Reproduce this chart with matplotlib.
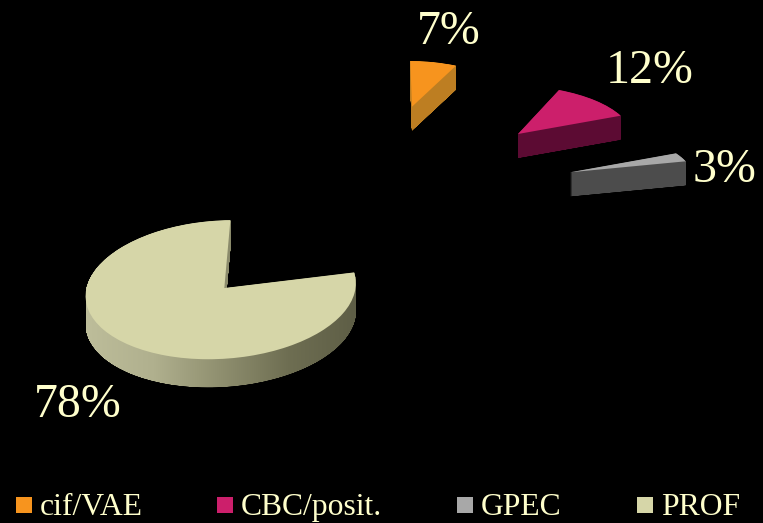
import numpy as np
import matplotlib
matplotlib.use("Agg")
import matplotlib.pyplot as plt
from matplotlib.transforms import Transform, Affine2D
from matplotlib.path import Path
from matplotlib.patches import PathPatch, Rectangle
from matplotlib.colors import LinearSegmentedColormap

categories = ["cif/VAE", "CBC/posit.", "GPEC", "PROF"]
values = [7, 12, 3, 78]
labels = ["7%", "12%", "3%", "78%"]

top_colors = ["#F7941E", "#CC1F6B", "#A8A8A8", "#D6D6A8"]
side_colors = ["#BD7E22", "#5C0B33", "#4C4C4C", "#8C8C6C"]
legend_colors = ["#F7941E", "#CC1F6B", "#A8A8A8", "#D6D6A8"]
text_color = "#FFFFCC"
serif = "Liberation Serif"


class Projection(Transform):
    input_dims = 2
    output_dims = 2
    has_inverse = False
    is_affine = False

    def __init__(self, M):
        super().__init__()
        self.M = M

    def transform_non_affine(self, values):
        v = np.asarray(values, float)
        h = np.column_stack([v, np.ones(len(v))]) @ self.M.T
        return h[:, :2] / h[:, 2:3]


def fit_projection(src, dst):
    A, b = [], []
    affine = len(src) < 4
    for (x, y), (u, w) in zip(src, dst):
        if affine:
            A += [[x, y, 1, 0, 0, 0], [0, 0, 0, x, y, 1]]
        else:
            A += [[x, y, 1, 0, 0, 0, -u * x, -u * y], [0, 0, 0, x, y, 1, -w * x, -w * y]]
        b += [u, w]
    p = np.linalg.lstsq(np.array(A, float), np.array(b, float), rcond=None)[0]
    if affine:
        return np.array([[p[0], p[1], p[2]], [p[3], p[4], p[5]], [0, 0, 1]])
    return np.array([[p[0], p[1], p[2]], [p[3], p[4], p[5]], [p[6], p[7], 1]])


def unit(deg):
    t = np.radians(deg)
    return (np.cos(t), np.sin(t))


fig = plt.figure(figsize=(7.63, 5.23), dpi=100, facecolor="black")
ax = fig.add_axes([0, 0, 1, 1])
wedges, _ = ax.pie(values, startangle=90, counterclock=False, radius=1, colors=top_colors)
ax.set_aspect("auto")
ax.set_xlim(0, 763)
ax.set_ylim(523, 0)
ax.axis("off")

# placement of every slice on the page: apex, clockwise-start edge, clockwise-end edge, depth
placement = [
    ((412, 106.7), (410.3, 61), (456, 65.7), 24),
    ((518, 134), (559, 90), (620.7, 115.7), 24),
    ((570, 172.3), (676, 153.3), (685.7, 161.3), 24),
    ((226, 285), (354, 273), (229.5, 220), 28),
]
# extra rim anchors for the large slice, which shows perspective
rim_angles = [180, 270, 0]
rim_points = [(86, 293), (217, 359), (356, 286)]

gradient = LinearSegmentedColormap.from_list(
    "rim", ["#BDBD9A", "#B0B08E", "#8F8F6F", "#6E6E52", "#5E5E46"]
)

for i, w in enumerate(wedges):
    apex, p_start, p_end, depth = placement[i]
    src = [(0, 0), unit(w.theta2), unit(w.theta1)]
    dst = [apex, p_start, p_end]
    if i == 3:
        src += [unit(a) for a in rim_angles]
        dst += rim_points
    proj = Projection(fit_projection(src, dst))
    w.set_transform(proj + ax.transData)
    w.set_zorder(3 + i)
    w.set_edgecolor("none")
    top = proj.transform_path(w.get_path())
    stack = Path.make_compound_path(
        *[Affine2D().translate(0, d).transform_path(top) for d in np.arange(0.2, depth + 0.01, 0.2)]
    )
    if i == 3:
        im = ax.imshow(
            np.linspace(0, 1, 256)[None, :],
            extent=(86, 356, 400, 220),
            cmap=gradient,
            aspect="auto",
            zorder=2,
        )
        im.set_clip_path(stack, transform=ax.transData)
    else:
        ax.add_patch(PathPatch(stack, facecolor=side_colors[i], edgecolor="none", zorder=3 + i - 0.5))

ax.set_xlim(0, 763)
ax.set_ylim(523, 0)

label_pos = [(417, 44), (606, 83), (693, 182), (34, 417)]
for s, (x, y) in zip(labels, label_pos):
    ax.text(x, y, s, color=text_color, family=serif, fontsize=34.5, ha="left", va="baseline", zorder=10)

legend_x = [16, 217, 457, 637]
for x, c, name in zip(legend_x, legend_colors, categories):
    ax.add_patch(Rectangle((x, 497), 15.5, 16, facecolor=c, edgecolor="none", zorder=10))
    ax.text(x + 24, 515, name, color=text_color, family=serif, fontsize=22.8, ha="left", va="baseline", zorder=10)

fig.savefig("out.png", dpi=100, facecolor="black")
